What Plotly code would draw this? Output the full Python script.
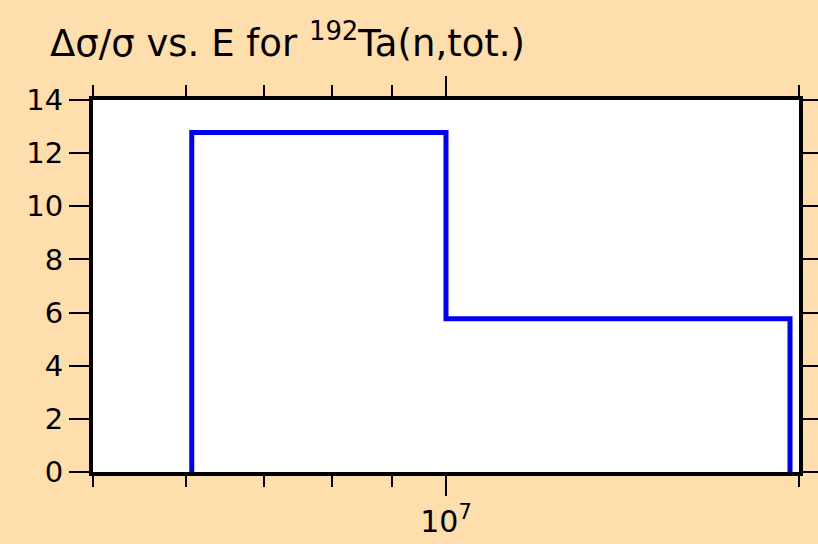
import plotly.graph_objects as go

# Data
bin_edges = [6.07e6, 1.0e7, 1.965e7]     # energy bin edges (eV)
rel_unc = [12.78, 5.77]                   # delta sigma / sigma (%)
y_ticks = [0, 2, 4, 6, 8, 10, 12, 14]
x_major = [1e7]
x_major_text = ["10<sup>7</sup>"]
x_minor = [5e6, 6e6, 7e6, 8e6, 9e6, 2e7]

# Build step outline from the bins
xs = [bin_edges[0]]
ys = [0]
for i, v in enumerate(rel_unc):
    xs += [bin_edges[i], bin_edges[i + 1]]
    ys += [v, v]
xs.append(bin_edges[-1])
ys.append(0)

W, H = 818, 544
fig = go.Figure()
fig.add_trace(go.Scatter(x=xs, y=ys, mode="lines",
                         line=dict(color="#0000ee", width=5),
                         hoverinfo="skip", showlegend=False))

font = "DejaVu Sans, Liberation Sans, Arial, sans-serif"
fig.update_layout(
    width=W, height=H,
    paper_bgcolor="#FFDEAD", plot_bgcolor="white",
    margin=dict(l=93, r=19, t=100, b=72, pad=0, autoexpand=False),
    font=dict(family=font, color="black", size=29),
    title=dict(text="Δσ/σ vs. E for <sup>192</sup>Ta(n,tot.)",
               x=50 / W, xanchor="left", xref="container",
               y=1 - 43 / H, yanchor="middle", yref="container",
               font=dict(size=37, family=font, color="black")),
)
fig.update_xaxes(type="log", range=[6.69897, 7.30103], automargin=False,
                 showline=True, linewidth=4, linecolor="black", mirror="ticks",
                 ticks="outside", ticklen=20, tickwidth=2, tickcolor="black",
                 tickvals=x_major, ticktext=x_major_text,
                 tickfont=dict(size=30),
                 minor=dict(tickvals=x_minor, ticks="outside", ticklen=11,
                            tickwidth=2, tickcolor="black", showgrid=False),
                 showgrid=False, zeroline=False)
fig.update_yaxes(range=[0, 14], tickvals=y_ticks, automargin=False,
                 showline=True, linewidth=4, linecolor="black", mirror="ticks",
                 ticks="outside", ticklen=20, tickwidth=2, tickcolor="black",
                 showgrid=False, zeroline=False, tickfont=dict(size=29))

fig.write_html("out.html",
               config={"displayModeBar": False},
               post_script="document.body.style.margin='0';"
                           "document.body.style.overflow='hidden';")
